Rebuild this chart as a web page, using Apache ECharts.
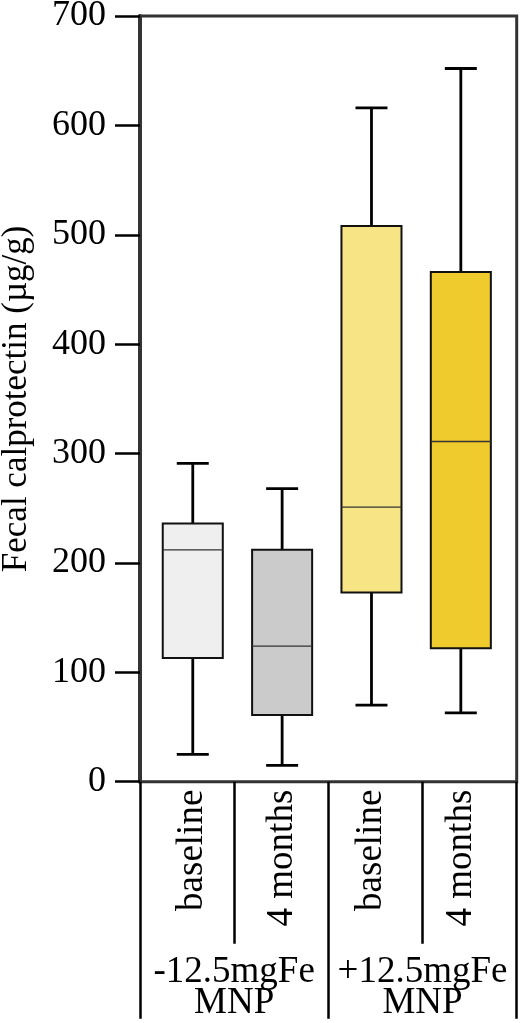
<!DOCTYPE html>
<html>
<head>
<meta charset="utf-8">
<script src="https://cdn.jsdelivr.net/npm/echarts@6/dist/echarts.min.js"></script>
<style>
html,body{margin:0;padding:0;background:#fff;}
#chart{width:520px;height:1023px;}
</style>
</head>
<body>
<div id="chart"></div>
<script>
// ---- data ----
const categories = ['baseline', '4 months', 'baseline', '4 months'];
const groups = ['-12.5mgFe\nMNP', '+12.5mgFe\nMNP'];
const minVals    = [25, 15, 70, 63];
const q1Vals     = [113, 61, 173, 122];
const medianVals = [212, 124, 251, 311];
const q3Vals     = [236, 212, 508, 466];
const maxVals    = [291, 268, 616, 652];
const boxColors  = ['#efefef', '#cbcbcb', '#f7e484', '#f0cb2e'];
const yMin = 0, yMax = 700, yStep = 100;
const yAxisName = 'Fecal calprotectin (µg/g)';

// ---- chart ----
const FONT = '"Liberation Serif", "Times New Roman", serif';
const boxData = categories.map((c, i) => [i, minVals[i], q1Vals[i], medianVals[i], q3Vals[i], maxVals[i]]);

const chart = echarts.init(document.getElementById('chart'), null, { renderer: 'canvas' });

function renderBox(params, api) {
  const x = api.value(0);
  const pMin = api.coord([x, api.value(1)]);
  const pQ1 = api.coord([x, api.value(2)]);
  const pMed = api.coord([x, api.value(3)]);
  const pQ3 = api.coord([x, api.value(4)]);
  const pMax = api.coord([x, api.value(5)]);
  const band = api.size([1, 0])[0];
  const bw = band * 0.672;
  const cw = band * 0.358;
  const cx = pMin[0];
  const whisker = { stroke: '#000', lineWidth: 2.8 };
  return {
    type: 'group',
    children: [
      { type: 'line', shape: { x1: cx, y1: pMax[1], x2: cx, y2: pQ3[1] }, style: whisker },
      { type: 'line', shape: { x1: cx, y1: pQ1[1], x2: cx, y2: pMin[1] }, style: whisker },
      { type: 'line', shape: { x1: cx - cw / 2, y1: pMax[1], x2: cx + cw / 2, y2: pMax[1] }, style: whisker },
      { type: 'line', shape: { x1: cx - cw / 2, y1: pMin[1], x2: cx + cw / 2, y2: pMin[1] }, style: whisker },
      { type: 'rect', shape: { x: cx - bw / 2, y: pQ3[1], width: bw, height: pQ1[1] - pQ3[1] },
        style: { fill: boxColors[params.dataIndex], stroke: '#111', lineWidth: 2 } },
      { type: 'line', shape: { x1: cx - bw / 2, y1: pMed[1], x2: cx + bw / 2, y2: pMed[1] },
        style: { stroke: '#333', lineWidth: 1.3 } }
    ]
  };
}

const option = {
  backgroundColor: '#ffffff',
  animation: false,
  grid: [
    { left: 140, top: 16, width: 376.7, height: 765.7, show: true, borderColor: '#333', borderWidth: 3,
      backgroundColor: 'transparent', containLabel: false, outerBoundsMode: 'none' },
    { left: 148.1, top: 16, width: 357.4, height: 765.7, show: false, containLabel: false, outerBoundsMode: 'none' }
  ],
  xAxis: [
    { gridIndex: 0, type: 'category', data: categories, position: 'bottom', offset: 0,
      axisLine: { show: false }, splitLine: { show: false },
      axisTick: { show: true, interval: 0, length: 162, lineStyle: { color: '#000', width: 2.5 } },
      axisLabel: { show: false } },
    { gridIndex: 0, type: 'category', data: groups, position: 'bottom', offset: 0,
      axisLine: { show: false }, splitLine: { show: false },
      axisTick: { show: true, interval: 0, length: 237, lineStyle: { color: '#000', width: 2.5 } },
      axisLabel: { show: true, interval: 0, margin: 175, fontSize: 37, lineHeight: 31, fontFamily: FONT, color: '#000' } },
    { gridIndex: 1, type: 'category', data: categories, position: 'bottom',
      axisLine: { show: false }, axisTick: { show: false }, splitLine: { show: false },
      axisLabel: { show: true, interval: 0, rotate: 90, margin: 8, fontSize: 37, fontFamily: FONT, color: '#000' } }
  ],
  yAxis: [
    { gridIndex: 0, type: 'value', min: yMin, max: yMax, interval: yStep,
      name: yAxisName, nameLocation: 'middle', nameGap: 106,
      nameTextStyle: { fontSize: 35, fontFamily: FONT, color: '#000' },
      axisLine: { show: true, lineStyle: { color: '#333', width: 4 } },
      axisTick: { show: true, length: 25, lineStyle: { color: '#000', width: 2.5 } },
      axisLabel: { margin: 34, fontSize: 36, fontFamily: FONT, color: '#000' },
      splitLine: { show: false } },
    { gridIndex: 1, type: 'value', min: yMin, max: yMax, interval: yStep, show: false, splitLine: { show: false } }
  ],
  series: [
    { type: 'custom', xAxisIndex: 2, yAxisIndex: 1, data: boxData,
      encode: { x: 0, y: [1, 2, 3, 4, 5] }, renderItem: renderBox, silent: true }
  ]
};
chart.setOption(option);
</script>
</body>
</html>
